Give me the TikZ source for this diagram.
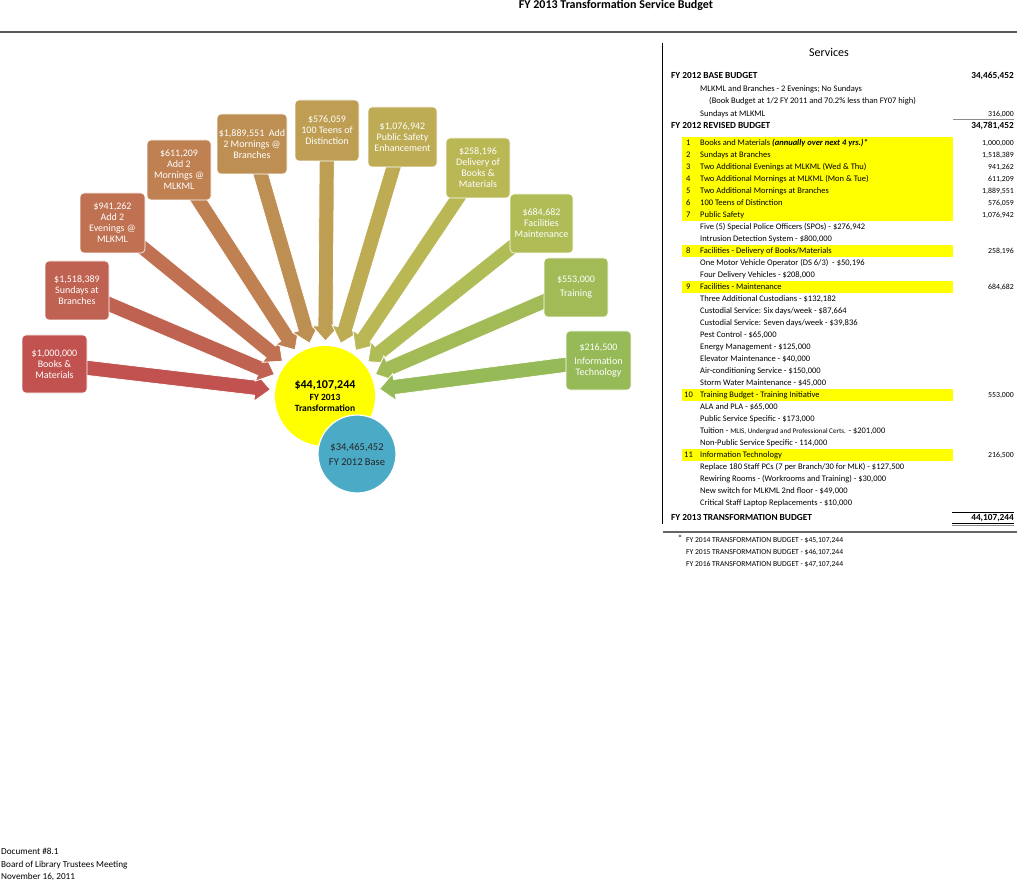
\documentclass[tikz,border=0pt]{standalone}
\usepackage{fontspec}
\setmainfont{Carlito}
\usetikzlibrary{calc}
\pgfdeclarelayer{bg}
\pgfsetlayers{bg,main}
\definecolor{k0}{RGB}{193,82,80}
\definecolor{k1}{RGB}{192,98,81}
\definecolor{k2}{RGB}{192,113,81}
\definecolor{k3}{RGB}{191,128,82}
\definecolor{k4}{RGB}{190,143,83}
\definecolor{k5}{RGB}{190,158,83}
\definecolor{k6}{RGB}{189,172,84}
\definecolor{k7}{RGB}{186,183,85}
\definecolor{k8}{RGB}{176,188,85}
\definecolor{k9}{RGB}{162,187,86}
\definecolor{k10}{RGB}{150,186,87}
\definecolor{hly}{RGB}{255,255,0}
\definecolor{bluec}{RGB}{75,170,198}
\newcommand\fanarrow[2]{%
  \coordinate (T#1) at ($(c.center)!55pt!(#1.center)$);
  \coordinate (H#1) at ($(T#1)!15pt!(#1.center)$);
  \filldraw[fill=#2, draw=white, line width=0.8pt]
    ($(#1.center)!7.5pt!90:(T#1)$) -- ($(H#1)!7.5pt!90:(T#1)$) -- ($(H#1)!13.5pt!90:(T#1)$) -- (T#1)
    -- ($(H#1)!13.5pt!-90:(T#1)$) -- ($(H#1)!7.5pt!-90:(T#1)$) -- ($(#1.center)!7.5pt!-90:(T#1)$) -- cycle;
}
\begin{document}
\begin{tikzpicture}[x=1pt,y=-1pt,
  box/.style={rounded corners=4pt, draw=white, line width=0.6pt, text=white, align=center,
    font=\fontsize{10}{11}\selectfont, inner sep=1pt, minimum width=64pt, minimum height=59pt},
  tx/.style={inner sep=0, anchor=mid west, font=\fontsize{8.5}{10}\selectfont},
  vx/.style={inner sep=0, anchor=mid east, font=\fontsize{7.8}{10}\selectfont},
  hx/.style={inner sep=0, anchor=mid west, font=\bfseries\fontsize{9.3}{11}\selectfont},
  hv/.style={inner sep=0, anchor=mid east, font=\bfseries\fontsize{9.3}{11}\selectfont},
  fx/.style={inner sep=0, anchor=mid west, font=\fontsize{7.6}{9}\selectfont},
  dx/.style={inner sep=0, anchor=mid west, font=\fontsize{9.2}{11}\selectfont},
  hl/.style={fill=hly}]
\useasboundingbox (0,0) rectangle (1017,882);
\begin{pgfonlayer}{bg}
\fill[white] (0,0) rectangle (1017,882);
\end{pgfonlayer}

% title and rule
\node[inner sep=0, font=\bfseries\fontsize{12}{14}\selectfont] (title) at (616,5) {FY 2013 Transformation Service Budget};
\draw[black!65, line width=1.5pt] (0,32) -- (1017,32);

% centre circles
\node[circle, fill=hly, minimum size=100pt, inner sep=0, align=center,
  font=\bfseries\fontsize{9.5}{11}\selectfont] (c) at (325,396)
  {{\fontsize{12}{13}\selectfont \$44,107,244}\\[1pt]FY 2013\\Transformation};
\node[circle, fill=bluec, draw=white, line width=1.2pt, minimum size=78pt, inner sep=0, align=center,
  text=black!85, font=\fontsize{10.5}{15}\selectfont] (base) at (357,454) {\$34,465,452\\FY 2012 Base};

% boxes
\node[box, fill=k0, minimum width=65pt, minimum height=58pt] (b1) at (54.5,364) {\$1,000,000\\Books \&\\Materials};
\node[box, fill=k1] (b2) at (77,290.5) {\$1,518,389\\Sundays at\\Branches};
\node[box, fill=k2, minimum width=65pt, minimum height=60pt] (b3) at (112.5,223) {\$941,262\\Add 2\\Evenings @\\MLKML};
\node[box, fill=k3, minimum height=60pt] (b4) at (179,170) {\$611,209\\Add 2\\Mornings @\\MLKML};
\node[box, fill=k4, minimum width=70pt, minimum height=60pt] (b5) at (252,144) {\$1,889,551~~Add\\2 Mornings @\\Branches};
\node[box, fill=k5, minimum height=61pt] (b6) at (327,130.5) {\$576,059\\100 Teens of\\Distinction};
\node[box, fill=k6, minimum width=69pt, minimum height=60pt] (b7) at (402.5,137) {\$1,076,942\\Public Safety\\Enhancement};
\node[box, fill=k7, minimum height=60pt] (b8) at (478,168) {\$258,196\\Delivery of\\Books \&\\Materials};
\node[box, fill=k8, minimum width=63pt] (b9) at (541.5,223.5) {\$684,682\\Facilities\\Maintenance};
\node[box, fill=k9] (b10) at (576,287.5) {\$553,000\\[3pt]Training};
\node[box, fill=k10, minimum width=65pt] (b11) at (598.5,360.5) {\$216,500\\[3pt]Information\\Technology};

% arrows
\begin{pgfonlayer}{bg}
\fanarrow{b1}{k0}
\fanarrow{b2}{k1}
\fanarrow{b3}{k2}
\fanarrow{b4}{k3}
\fanarrow{b5}{k4}
\fanarrow{b6}{k5}
\fanarrow{b7}{k6}
\fanarrow{b8}{k7}
\fanarrow{b9}{k8}
\fanarrow{b10}{k9}
\fanarrow{b11}{k10}
\end{pgfonlayer}

% table frame
\draw[black, line width=0.9pt] (662,43) -- (662,524);
\node[inner sep=0, font=\fontsize{12}{14}\selectfont] (svc) at (829,52) {Services};

% highlights
\fill[hl] (682,137) rectangle (953,221);
\fill[hl] (682,245) rectangle (953,257);
\fill[hl] (682,281) rectangle (953,293);
\fill[hl] (682,389) rectangle (953,401);
\fill[hl] (682,449) rectangle (953,461);

\node[hx] (h1) at (671,76) {FY 2012 BASE BUDGET};
\node[hv] (h1v) at (1014,76) {34,465,452};
\node[tx] (s1) at (700,89) {MLKML and Branches - 2 Evenings; No Sundays};
\node[tx] (s2) at (709,101) {(Book Budget at 1/2 FY 2011 and 70.2\% less than FY07 high)};
\node[tx] (s3) at (700,114) {Sundays at MLKML};
\node[vx] (s3v) at (1014,114) {316,000};
\draw[black!45, line width=1.8pt] (953,119.5) -- (1014,119.5);
\node[hx] (h2) at (671,126) {FY 2012 REVISED BUDGET};
\node[hv] (h2v) at (1014,126) {34,781,452};

\node[tx] (n1) at (686,143) {1};
\node[tx] (i1) at (700,143) {Books and Materials \textbf{\textit{(annually over next 4 yrs.)*}}};
\node[vx] (v1) at (1014,143) {1,000,000};
\node[tx] (n2) at (686,155) {2};
\node[tx] (i2) at (700,155) {Sundays at Branches};
\node[vx] (v2) at (1014,155) {1,518,389};
\node[tx] (n3) at (686,167) {3};
\node[tx] (i3) at (700,167) {Two Additional Evenings at MLKML (Wed \& Thu)};
\node[vx] (v3) at (1014,167) {941,262};
\node[tx] (n4) at (686,179) {4};
\node[tx] (i4) at (700,179) {Two Additional Mornings at MLKML (Mon \& Tue)};
\node[vx] (v4) at (1014,179) {611,209};
\node[tx] (n5) at (686,191) {5};
\node[tx] (i5) at (700,191) {Two Additional Mornings at Branches};
\node[vx] (v5) at (1014,191) {1,889,551};
\node[tx] (n6) at (686,203) {6};
\node[tx] (i6) at (700,203) {100 Teens of Distinction};
\node[vx] (v6) at (1014,203) {576,059};
\node[tx] (n7) at (686,215) {7};
\node[tx] (i7) at (700,215) {Public Safety};
\node[vx] (v7) at (1014,215) {1,076,942};
\node[tx] (p1) at (700,227) {Five (5) Special Police Officers (SPOs) - \$276,942};
\node[tx] (p2) at (700,239) {Intrusion Detection System - \$800,000};
\node[tx] (n8) at (686,251) {8};
\node[tx] (i8) at (700,251) {Facilities - Delivery of Books/Materials};
\node[vx] (v8) at (1014,251) {258,196};
\node[tx] (d1) at (700,263) {One Motor Vehicle Operator (DS 6/3)~~- \$50,196};
\node[tx] (d2) at (700,275) {Four Delivery Vehicles - \$208,000};
\node[tx] (n9) at (686,287) {9};
\node[tx] (i9) at (700,287) {Facilities - Maintenance};
\node[vx] (v9) at (1014,287) {684,682};
\node[tx] (f1) at (700,299) {Three Additional Custodians - \$132,182};
\node[tx] (f2) at (700,311) {Custodial Service: Six days/week - \$87,664};
\node[tx] (f3) at (700,323) {Custodial Service: Seven days/week - \$39,836};
\node[tx] (f4) at (700,335) {Pest Control - \$65,000};
\node[tx] (f5) at (700,347) {Energy Management - \$125,000};
\node[tx] (f6) at (700,359) {Elevator Maintenance - \$40,000};
\node[tx] (f7) at (700,371) {Air-conditioning Service - \$150,000};
\node[tx] (f8) at (700,383) {Storm Water Maintenance - \$45,000};
\node[tx] (n10) at (684,395) {10};
\node[tx] (i10) at (700,395) {Training Budget - Training Initiative};
\node[vx] (v10) at (1014,395) {553,000};
\node[tx] (t1) at (700,407) {ALA and PLA - \$65,000};
\node[tx] (t2) at (700,419) {Public Service Specific - \$173,000};
\node[tx] (t3) at (700,431) {Tuition - {\fontsize{7.1}{8}\selectfont MLIS, Undergrad and Professional Certs.} - \$201,000};
\node[tx] (t4) at (700,443) {Non-Public Service Specific - 114,000};
\node[tx] (n11) at (684,455) {11};
\node[tx] (i11) at (700,455) {Information Technology};
\node[vx] (v11) at (1014,455) {216,500};
\node[tx] (r1) at (700,467) {Replace 180 Staff PCs (7 per Branch/30 for MLK) - \$127,500};
\node[tx] (r2) at (700,479) {Rewiring Rooms - (Workrooms and Training) - \$30,000};
\node[tx] (r3) at (700,491) {New switch for MLKML 2nd floor - \$49,000};
\node[tx] (r4) at (700,503) {Critical Staff Laptop Replacements - \$10,000};

\draw[black, line width=0.8pt] (952,512) -- (1014,512);
\node[hx] (h3) at (671,518) {FY 2013 TRANSFORMATION BUDGET};
\node[hv] (h3v) at (1014,518) {44,107,244};
\draw[black, line width=0.8pt] (952,523) -- (1014,523);
\draw[black!45, line width=1.5pt] (952,525.5) -- (1014,525.5);
\draw[black!60, line width=1.2pt] (663,532) -- (1017,532);

\node[inner sep=0, font=\fontsize{9}{9}\selectfont] (ast) at (680,538) {*};
\node[fx] (fn1) at (686,540) {FY 2014 TRANSFORMATION BUDGET - \$45,107,244};
\node[fx] (fn2) at (686,552) {FY 2015 TRANSFORMATION BUDGET - \$46,107,244};
\node[fx] (fn3) at (686,564) {FY 2016 TRANSFORMATION BUDGET - \$47,107,244};

% footer
\node[dx] (doc1) at (1,852) {Document \#8.1};
\node[dx] (doc2) at (1,865) {Board of Library Trustees Meeting};
\node[dx] (doc3) at (1,877) {November 16, 2011};
\end{tikzpicture}
\end{document}
